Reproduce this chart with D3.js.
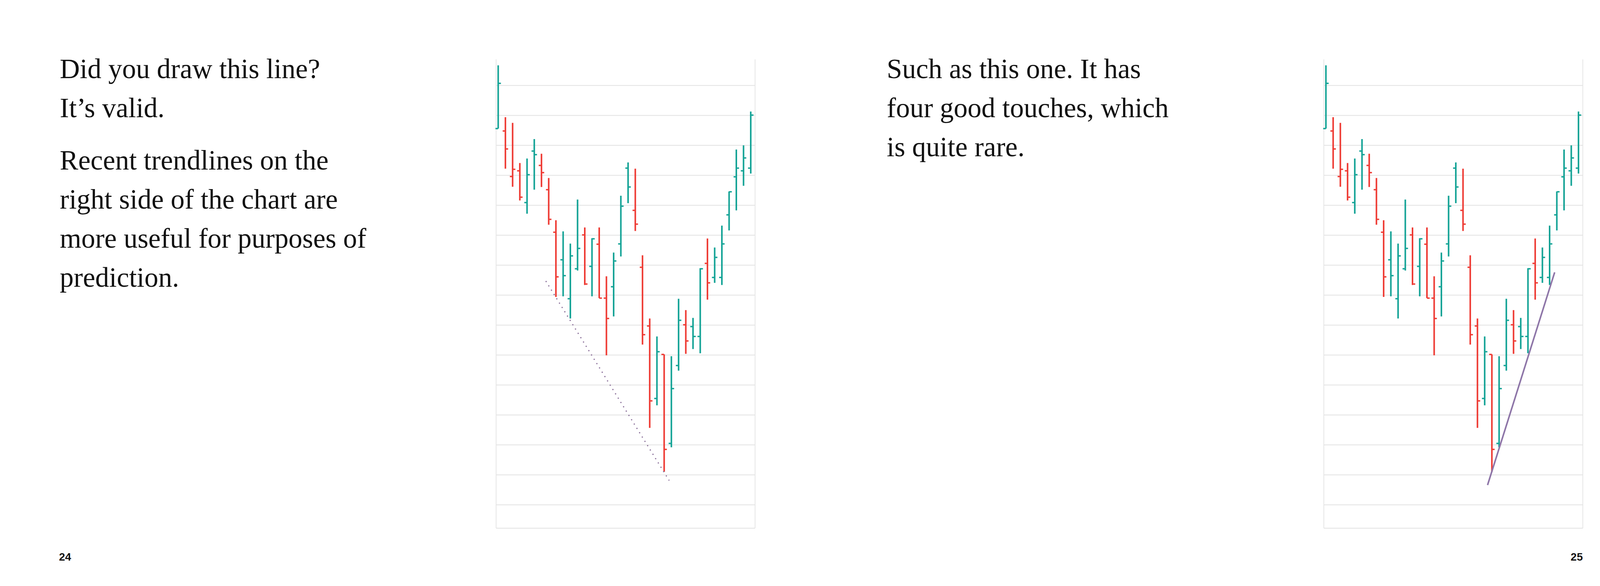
<!DOCTYPE html>
<html><head><meta charset="utf-8">
<script src="https://cdn.jsdelivr.net/npm/d3@7"></script>
<style>body{margin:0;background:#fff;overflow:hidden}</style>
</head><body>
<svg id="page" width="4200" height="1500"></svg>
<script>
// OHLC bars
var highs  = [156.7,139.4,137.5,124.1,125.6,132.1,127.2,119.1,105.0,101.3,97.2,111.9,102.6,99.0,102.6,86.3,94.2,113.2,124.3,122.2,93.3,72.2,66.2,60.2,59.6,78.8,75.0,72.4,89.0,98.9,95.9,103.2,114.6,128.6,130.0,141.3];
var lows   = [135.6,122.2,116.2,111.6,107.2,115.2,116.1,103.5,79.4,79.6,72.2,88.2,83.4,79.6,79.0,59.9,72.9,92.9,110.7,101.4,63.5,35.7,43.2,21.0,29.2,54.8,60.4,62.0,60.6,78.5,84.1,83.4,101.6,108.3,116.5,120.6];
var opens  = [135.6,134.8,119.6,121.5,110.9,128.1,123.3,115.2,101.0,91.8,78.8,88.8,100.1,89.6,97.0,79.0,82.8,97.1,122.4,108.3,89.3,69.7,45.5,60.2,30.5,56.5,70.1,69.5,66.2,90.6,85.9,85.9,106.8,119.5,121.5,122.4];
var closes = [150.7,128.8,122.0,112.7,120.2,126.9,120.9,105.3,86.1,86.5,93.1,95.6,83.7,98.8,79.0,72.2,91.4,109.7,116.1,103.7,66.8,44.7,61.1,28.5,48.8,71.6,64.7,66.2,88.8,84.1,92.6,97.1,114.5,122.4,125.8,140.1];
var colors = ["g","r","r","r","g","g","r","r","r","g","g","g","r","g","r","r","g","g","g","r","r","r","g","r","g","g","r","g","g","r","g","g","g","g","g","g"];
var gridValues = [10,20,30,40,50,60,70,80,90,100,110,120,130,140,150];
// trendlines: [index, price]
var leftTrend  = [[6.6,84.7],[23.7,18.1]];
var rightTrend = [[22.4,16.6],[31.7,87.6]];

var leftText  = [["Did you draw this line?","It\u2019s valid."],["Recent trendlines on the","right side of the chart are","more useful for purposes of","prediction."]];
var rightText = [["Such as this one. It has","four good touches, which","is quite rare."]];

var svg = d3.select("#page");
var bars = d3.range(highs.length);

function drawChart(left, trend, dotted){
    var x = d3.scaleLinear().domain([-0.29,35.6]).range([left,left+663]);
    var y = d3.scaleLinear().domain([2.2,158.7]).range([1352,152]);
    var g = svg.append("g");
    g.selectAll(".grid").data(gridValues).enter().append("line")
        .attr("x1",left).attr("x2",left+663)
        .attr("y1",function(d){return y(d);}).attr("y2",function(d){return y(d);})
        .attr("stroke","#e2e2e2").attr("stroke-width",2);
    g.append("line").attr("x1",left).attr("x2",left+663).attr("y1",1352).attr("y2",1352).attr("stroke","#e2e2e2").attr("stroke-width",2);
    g.append("line").attr("x1",left).attr("x2",left).attr("y1",152).attr("y2",1352).attr("stroke","#e6e6e6").attr("stroke-width",2);
    g.append("line").attr("x1",left+663).attr("x2",left+663).attr("y1",152).attr("y2",1352).attr("stroke","#e6e6e6").attr("stroke-width",2);

    var col = function(i){return colors[i]=="g" ? "#14a396" : "#ee3b34";};
    var b = g.selectAll(".bar").data(bars).enter().append("g");
    b.append("line").attr("x1",function(i){return x(i);}).attr("x2",function(i){return x(i);})
        .attr("y1",function(i){return y(highs[i]);}).attr("y2",function(i){return y(lows[i]);})
        .attr("stroke",col).attr("stroke-width",4);
    b.append("line").attr("x1",function(i){return x(i)-7;}).attr("x2",function(i){return x(i);})
        .attr("y1",function(i){return y(opens[i]);}).attr("y2",function(i){return y(opens[i]);})
        .attr("stroke",col).attr("stroke-width",3.5);
    b.append("line").attr("x1",function(i){return x(i);}).attr("x2",function(i){return x(i)+7;})
        .attr("y1",function(i){return y(closes[i]);}).attr("y2",function(i){return y(closes[i]);})
        .attr("stroke",col).attr("stroke-width",3.5);

    var ln = d3.line().x(function(d){return x(d[0]);}).y(function(d){return y(d[1]);});
    var p = g.append("path").attr("d",ln(trend)).attr("fill","none");
    if(dotted){
        p.attr("stroke","#8a6f99").attr("stroke-width",3).attr("stroke-dasharray","3,10");
    } else {
        p.attr("stroke","#8e76a8").attr("stroke-width",4);
    }
}
drawChart(1270, leftTrend, true);
drawChart(3389, rightTrend, false);

function drawText(x, paras, start){
    var yy = start;
    paras.forEach(function(lines, pi){
        if(pi>0) yy += 34;
        lines.forEach(function(t){
            svg.append("text").attr("x",x).attr("y",yy).text(t)
                .attr("font-family","Liberation Serif, serif").attr("font-size",71).attr("fill","#111");
            yy += 100;
        });
    });
}
drawText(153, leftText, 200);
drawText(2270, rightText, 200);

svg.append("text").attr("x",151).attr("y",1435).text("24")
    .attr("font-family","Liberation Sans, Arial").attr("font-weight","bold").attr("font-size",28).attr("fill","#111");
svg.append("text").attr("x",4052).attr("y",1435).attr("text-anchor","end").text("25")
    .attr("font-family","Liberation Sans, Arial").attr("font-weight","bold").attr("font-size",28).attr("fill","#111");

svg.append("rect").attr("x",4117).attr("y",150).attr("width",83).attr("height",233).attr("fill","#5a1a66");
svg.append("text").attr("transform","translate(4150,265) rotate(-90)").attr("text-anchor","middle")
    .attr("dominant-baseline","central").text("One")
    .attr("font-family","Liberation Sans, Arial").attr("font-weight","bold").attr("font-size",34).attr("fill","#fff");
</script>
</body></html>
